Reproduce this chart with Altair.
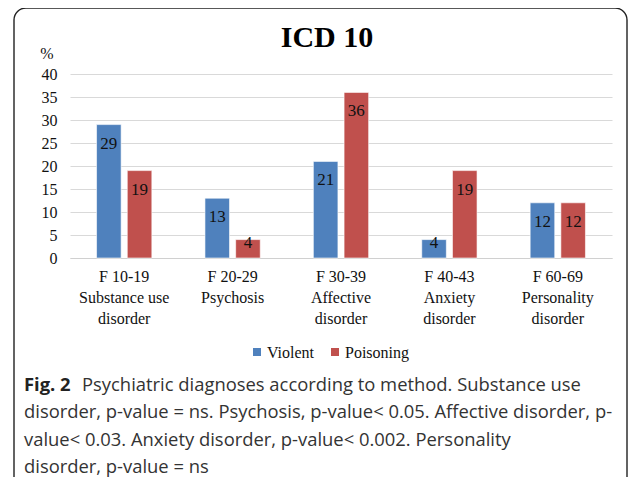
import altair as alt
import pandas as pd

codes = ["F 10-19", "F 20-29", "F 30-39", "F 40-43", "F 60-69"]
names = ["Substance use|disorder", "Psychosis", "Affective|disorder", "Anxiety|disorder", "Personality|disorder"]
violent = [29, 13, 21, 4, 12]
poisoning = [19, 4, 36, 19, 12]
series = ["Violent", "Poisoning"]
colors = ["#4F81BD", "#C0504D"]
y_ticks = [0, 5, 10, 15, 20, 25, 30, 35, 40]

title_text = "ICD 10"
caption_bold = "Fig. 2"
caption_first = "Psychiatric diagnoses according to method. Substance use"
caption_rest = ("disorder, p-value = ns. Psychosis, p-value< 0.05. Affective disorder, p-\n"
                "value< 0.03. Anxiety disorder, p-value< 0.002. Personality\n"
                "disorder, p-value = ns")

labels = [c + "|" + n for c, n in zip(codes, names)]
rows = []
for lab, v, p in zip(labels, violent, poisoning):
    rows.append({"cat": lab, "method": "Violent", "value": v})
    rows.append({"cat": lab, "method": "Poisoning", "value": p})
df = pd.DataFrame(rows)

W, H = 542, 184
SERIF = "Liberation Serif"
SANS = "Open Sans"
CAP = 18.4

x_scale = alt.Scale(paddingInner=0.49, paddingOuter=0.245)
y_scale = alt.Scale(domain=[0, 40], nice=False)
x_axis = alt.Axis(labelExpr="split(datum.label, '|')", labelAngle=0,
                  labelFont=SERIF, labelFontSize=16, labelColor="#111",
                  labelLineHeight=21, labelPadding=10, ticks=False,
                  domainColor="#d0d0d0", domainWidth=1, grid=False)
y_axis = alt.Axis(values=y_ticks, labelFont=SERIF, labelFontSize=16,
                  labelColor="#111", labelPadding=13, ticks=False,
                  labelOverlap=False, labelFlush=False,
                  domain=False, gridColor="#d9d9d9", gridWidth=1.2)
xoff = alt.XOffset("method:N", sort=series, scale=alt.Scale(paddingInner=0.2))

bars = alt.Chart(df).mark_bar(stroke="white", strokeWidth=0.6).encode(
    x=alt.X("cat:N", sort=labels, title=None, scale=x_scale, axis=x_axis),
    y=alt.Y("value:Q", title=None, scale=y_scale, axis=y_axis),
    xOffset=xoff,
    color=alt.Color("method:N", sort=series,
                    scale=alt.Scale(domain=series, range=colors), legend=None),
)

labels_layer = alt.Chart(df).transform_calculate(
    pos="max(datum.value, 7.3)"
).mark_text(font=SERIF, fontSize=17, color="#111", baseline="middle", dy=19).encode(
    x=alt.X("cat:N", sort=labels, title=None, scale=x_scale, axis=x_axis),
    xOffset=xoff,
    y=alt.Y("pos:Q", title=None, scale=y_scale, axis=y_axis),
    text="value:Q",
)

def txt(s, x, y, **kw):
    return alt.Chart(pd.DataFrame({"t": [s]})).mark_text(
        baseline="middle", **kw).encode(x=alt.value(x), y=alt.value(y), text="t:N")

def sq(color, x, y):
    return alt.Chart(pd.DataFrame({"t": [0]})).mark_square(
        size=64, color=color, opacity=1).encode(x=alt.value(x), y=alt.value(y))

title_layer = txt(title_text, 257, -36, font=SERIF, fontSize=30, fontWeight="bold",
                  color="#000", align="center")
pct_layer = txt("%", -23, -20, font=SERIF, fontSize=16, color="#111", align="center")

leg = [
    sq(colors[0], 187, 278),
    txt(series[0], 197, 279, font=SERIF, fontSize=16, color="#111", align="left"),
    sq(colors[1], 265, 278),
    txt(series[1], 275, 279, font=SERIF, fontSize=16, color="#111", align="left"),
]

cb_layer = txt(caption_bold, -46, 310.5, font=SANS, fontSize=CAP, fontWeight="bold",
               color="#222", align="left")
c1_layer = txt(caption_first, 12, 310.5, font=SANS, fontSize=CAP, color="#333", align="left")
cr_layer = txt(caption_rest, -46, 338, font=SANS, fontSize=CAP, color="#333", align="left",
               lineBreak="\n", lineHeight=27.5)

box_layer = alt.Chart(pd.DataFrame({"a": [0]})).mark_rect(
    fill=None, stroke="#222", strokeWidth=1.4, cornerRadius=12).encode(
    x=alt.value(-56), x2=alt.value(557), y=alt.value(-66), y2=alt.value(420))

chart = alt.layer(box_layer, bars, labels_layer, title_layer, pct_layer, *leg,
                  cb_layer, c1_layer, cr_layer).properties(
    width=W, height=H,
    padding={"left": 62, "top": 66, "right": 16, "bottom": 219},
    autosize=alt.AutoSizeParams(type="none"),
).configure_view(stroke=None)

chart.save("out.html", embed_options={"renderer": "svg", "actions": False})
